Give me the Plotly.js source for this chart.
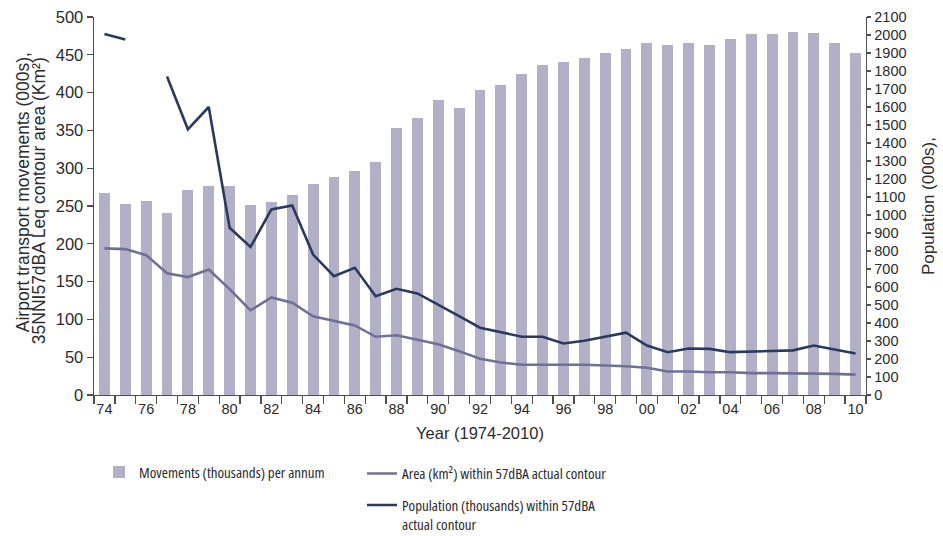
<!DOCTYPE html>
<html>
<head>
<meta charset="utf-8">
<script src="https://cdn.plot.ly/plotly-3.0.1.min.js"></script>
<style>
html,body{margin:0;padding:0;background:#fff;}
#chart{width:943px;height:536px;}
#chart .infolayer g[class*="legend"] text, #chart .infolayer g[class*="legend"] tspan{font-stretch:75% !important;}
</style>
</head>
<body>
<div id="chart"></div>
<script>
// Years 1974-2010
const years = [1974,1975,1976,1977,1978,1979,1980,1981,1982,1983,1984,1985,1986,1987,1988,1989,1990,1991,1992,1993,1994,1995,1996,1997,1998,1999,2000,2001,2002,2003,2004,2005,2006,2007,2008,2009,2010];
// Movements (thousands) per annum - left axis
const movements = [267,253,256,241,271,276,276,251,255,264,279,288,296,308,353,367,390,380,404,410,424,436,441,446,452,458,466,463,466,463,471,478,478,480,479,466,452];
// Area (km2) within 57dBA actual contour - left axis
const area = [194,193,185,161,156,166,140,112,129,122,104,98,92,77,79,73,67,58,48,43,40,40,40,40,39,38,36,31,31,30,30,29,29,29,28,28,27];
// Population (thousands) within 57dBA actual contour - right axis (null = no data)
const population = [2005,1975,null,1769,1476,1600,929,822,1031,1053,780,660,707,549,590,564,503,438,374,351,324,324,286,301,325,346,275,238,258,256,238,240,243,248,275,253,231];
// Tick labels
const tickYears = [1974,1976,1978,1980,1982,1984,1986,1988,1990,1992,1994,1996,1998,2000,2002,2004,2006,2008,2010];
const tickLabels = ["74","76","78","80","82","84","86","88","90","92","94","96","98","00","02","04","06","08","10"];

const barColor = '#b2b0c6';
const areaColor = '#6e7096';
const popColor = '#2c395e';
const axisColor = '#4d4d4d';
const textColor = '#2b2b2b';
const baseFont = 'Liberation Sans, Arial, sans-serif';
const legendFont = 'Open Sans, Liberation Sans, Arial, sans-serif';

const traces = [
  {type:'bar', x:years, y:movements, name:'Movements (thousands) per annum', marker:{color:barColor}, width:0.52, legend:'legend', yaxis:'y'},
  {type:'scatter', mode:'lines', x:years, y:area, name:'Area (km²) within 57dBA actual contour', line:{color:areaColor, width:2.6}, legend:'legend2', yaxis:'y'},
  {type:'scatter', mode:'lines', x:years, y:population, name:'Population (thousands) within 57dBA<br>actual contour', line:{color:popColor, width:2.6}, connectgaps:false, legend:'legend3', yaxis:'y2'}
];

const H = 378, B = 395.3, L = 94, W = 772;
function legFont(){ return {family:legendFont, size:15, color:textColor}; }
const layout = {
  width:943, height:536,
  margin:{l:94, r:77, t:17, b:141, autoexpand:false},
  paper_bgcolor:'#fff', plot_bgcolor:'#fff',
  font:{family:baseFont, color:textColor},
  showlegend:true,
  bargap:0,
  xaxis:{
    range:[1973.5, 2010.5], showgrid:false, zeroline:false,
    showline:true, linecolor:axisColor, linewidth:1.4,
    tickmode:'array', tickvals:tickYears, ticktext:tickLabels, ticks:'',
    tickfont:{size:14.5, color:textColor},
    minor:{tickmode:'linear', tick0:1973.5, dtick:1, ticks:'outside', ticklen:8, tickwidth:1.3, tickcolor:axisColor, showgrid:false},
    title:{text:'Year (1974-2010)', font:{size:16.5, color:textColor}, standoff:11}
  },
  yaxis:{
    range:[0,500], dtick:50, showgrid:false, zeroline:false,
    showline:true, linecolor:axisColor, linewidth:1.4,
    ticks:'outside', ticklen:6, tickwidth:1.3, tickcolor:axisColor,
    tickfont:{size:16.5, color:textColor}
  },
  yaxis2:{
    range:[0,2100], dtick:100, overlaying:'y', side:'right', showgrid:false, zeroline:false,
    showline:true, linecolor:axisColor, linewidth:1.4,
    ticks:'outside', ticklen:4, tickwidth:1.3, tickcolor:axisColor,
    tickfont:{size:14.5, color:textColor},
    title:{text:'Population (000s),', font:{size:17, color:textColor}, standoff:16}
  },
  legend:{x:(99-L)/W, y:(B-456)/H, xanchor:'left', yanchor:'top', orientation:'v', bgcolor:'rgba(0,0,0,0)', font:legFont()},
  legend2:{x:(362-L)/W, y:(B-457.5)/H, xanchor:'left', yanchor:'top', orientation:'v', bgcolor:'rgba(0,0,0,0)', font:legFont()},
  legend3:{x:(362-L)/W, y:(B-489)/H, xanchor:'left', yanchor:'top', orientation:'v', valign:'top', bgcolor:'rgba(0,0,0,0)', font:legFont()},
  annotations:[
    {text:'Airport transport movements (000s),', textangle:-90, xref:'paper', yref:'paper', x:(22.5-L)/W, y:(B-193)/H, xanchor:'center', yanchor:'middle', showarrow:false, font:{size:17.5, color:textColor}},
    {text:'35NNI57dBA Leq contour area (Km²)', textangle:-90, xref:'paper', yref:'paper', x:(38.5-L)/W, y:(B-201)/H, xanchor:'center', yanchor:'middle', showarrow:false, font:{size:17.5, color:textColor}}
  ]
};

function condenseLegends(gd){
  gd.querySelectorAll('text').forEach(function(t){
    const s = t.textContent || '';
    if (t.closest('g[class*="legend"]') || /Movements \(thousands\)|Area \(km|Population \(thousands\)|actual contour/.test(s)) {
      t.style.setProperty('font-stretch','75%','important');
      t.querySelectorAll('tspan').forEach(function(ts){ ts.style.setProperty('font-stretch','75%','important'); });
    }
  });
}
Plotly.newPlot('chart', traces, layout, {displayModeBar:false, staticPlot:true}).then(function(gd){
  condenseLegends(gd);
  setTimeout(function(){ condenseLegends(gd); }, 50);
});
</script>
</body>
</html>
